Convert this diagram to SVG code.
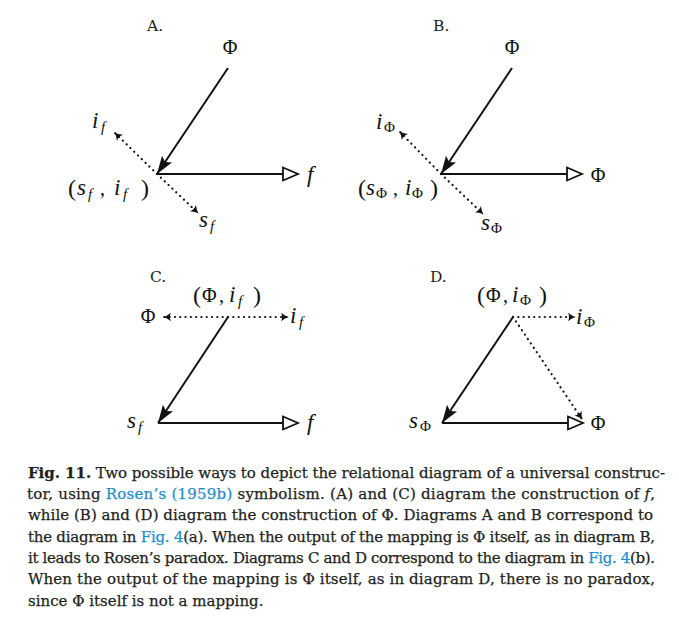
<svg xmlns="http://www.w3.org/2000/svg" width="679" height="620" viewBox="0 0 679 620">
<style>
.lbl{font-family:"DejaVu Serif","Liberation Serif",serif;font-size:15.5px;fill:#222}
.m{font-family:"Liberation Serif",serif;font-size:20px;fill:#111}
.it{font-style:italic;font-size:23px}
.sub{font-size:15px}
.par{font-size:24px}
.solid{stroke:#111;stroke-width:2;fill:none}
.dot{stroke:#111;stroke-width:2.2;fill:none;stroke-dasharray:0.1 5.2;stroke-linecap:round}
.cap{font-family:"DejaVu Serif","Liberation Serif",serif;font-size:15px;fill:#231f20;stroke:#231f20;stroke-width:0.25}
.lnk{fill:#1f8fc9;stroke:#1f8fc9}
</style>
<defs>
<marker id="fa" markerUnits="userSpaceOnUse" markerWidth="22" markerHeight="16" viewBox="-19 -8 22 16" refX="0" refY="0" orient="auto"><path d="M0,0 L-18,-6 L-14.5,0 L-18,6 Z" fill="#111"/></marker>
<marker id="oa" markerUnits="userSpaceOnUse" markerWidth="22" markerHeight="18" viewBox="-18 -9 22 18" refX="0" refY="0" orient="auto"><path d="M-15,-6.5 L0,0 L-15,6.5 Z" fill="#fff" stroke="#111" stroke-width="1.8" stroke-linejoin="miter"/></marker>
<marker id="da" markerUnits="userSpaceOnUse" markerWidth="12" markerHeight="12" viewBox="-8 -6 12 12" refX="0" refY="0" orient="auto"><path d="M-7,-4.3 Q-2.8,-0.9 0.8,0 Q-2.8,0.9 -7,4.3 Q-4.8,0 -7,-4.3 Z" fill="#111"/></marker>
</defs>
<g id="connectors">
<line class="solid" x1="228" y1="68" x2="157" y2="174" marker-end="url(#fa)"/>
<line class="solid" x1="157" y1="174" x2="298" y2="174" marker-end="url(#oa)"/>
<line class="dot" x1="157" y1="174" x2="115" y2="133" marker-end="url(#da)"/>
<line class="dot" x1="157" y1="174" x2="198" y2="213" marker-end="url(#da)"/>
<line class="solid" x1="512" y1="68" x2="441" y2="174" marker-end="url(#fa)"/>
<line class="solid" x1="441" y1="174" x2="582" y2="174" marker-end="url(#oa)"/>
<line class="dot" x1="441" y1="174" x2="400" y2="132" marker-end="url(#da)"/>
<line class="dot" x1="441" y1="174" x2="483" y2="214" marker-end="url(#da)"/>
<line class="dot" x1="228" y1="317" x2="164" y2="317" marker-end="url(#da)"/>
<line class="dot" x1="228" y1="317" x2="288" y2="317" marker-end="url(#da)"/>
<line class="solid" x1="228" y1="317" x2="158" y2="423" marker-end="url(#fa)"/>
<line class="solid" x1="158" y1="423" x2="298" y2="423" marker-end="url(#oa)"/>
<line class="dot" x1="513" y1="317" x2="575" y2="317" marker-end="url(#da)"/>
<line class="dot" x1="513" y1="317" x2="582" y2="419" marker-end="url(#da)"/>
<line class="solid" x1="513" y1="317" x2="442" y2="423" marker-end="url(#fa)"/>
<line class="solid" x1="442" y1="423" x2="583" y2="423" marker-end="url(#oa)"/>
</g>
<g id="diagramA">
<text class="lbl" x="147" y="31">A.</text>
<text class="m" x="230" y="54" text-anchor="middle">Φ</text>
<text class="m it" x="307" y="182">f</text>
<text class="m"><tspan class="it" x="92" y="128">i</tspan><tspan class="it sub" x="101" y="132">f</tspan></text>
<text class="m"><tspan class="it" x="199" y="227">s</tspan><tspan class="it sub" x="210" y="231">f</tspan></text>
<text class="m"><tspan class="par" x="68" y="196">(</tspan><tspan class="it" x="77" y="195">s</tspan><tspan class="it sub" x="88" y="199">f</tspan><tspan x="100" y="195">,</tspan><tspan class="it" x="114" y="195">i</tspan><tspan class="it sub" x="123" y="199">f</tspan><tspan class="par" x="141" y="196">)</tspan></text>
</g>
<g id="diagramB">
<text class="lbl" x="433" y="31">B.</text>
<text class="m" x="512" y="54" text-anchor="middle">Φ</text>
<text class="m" x="598" y="182" text-anchor="middle">Φ</text>
<text class="m"><tspan class="it" x="376" y="129">i</tspan><tspan class="sub" x="384" y="132">Φ</tspan></text>
<text class="m"><tspan class="it" x="481" y="230">s</tspan><tspan class="sub" x="491" y="233">Φ</tspan></text>
<text class="m"><tspan class="par" x="358" y="196">(</tspan><tspan class="it" x="366" y="195">s</tspan><tspan class="sub" x="376" y="198">Φ</tspan><tspan x="393" y="195">,</tspan><tspan class="it" x="405" y="195">i</tspan><tspan class="sub" x="412" y="198">Φ</tspan><tspan class="par" x="430" y="196">)</tspan></text>
</g>
<g id="diagramC">
<text class="lbl" x="150" y="282">C.</text>
<text class="m"><tspan class="par" x="193" y="303">(</tspan><tspan x="202" y="302">Φ</tspan><tspan x="219" y="302">,</tspan><tspan class="it" x="229" y="302">i</tspan><tspan class="it sub" x="238" y="306">f</tspan><tspan class="par" x="253" y="303">)</tspan></text>
<text class="m" x="148" y="323" text-anchor="middle">Φ</text>
<text class="m"><tspan class="it" x="290" y="323">i</tspan><tspan class="it sub" x="299" y="327">f</tspan></text>
<text class="m"><tspan class="it" x="127" y="428">s</tspan><tspan class="it sub" x="138" y="432">f</tspan></text>
<text class="m it" x="307" y="430">f</text>
</g>
<g id="diagramD">
<text class="lbl" x="430" y="282">D.</text>
<text class="m"><tspan class="par" x="477" y="303">(</tspan><tspan x="486" y="302">Φ</tspan><tspan x="503" y="302">,</tspan><tspan class="it" x="512" y="302">i</tspan><tspan class="sub" x="520" y="305">Φ</tspan><tspan class="par" x="539" y="303">)</tspan></text>
<text class="m"><tspan class="it" x="576" y="324">i</tspan><tspan class="sub" x="584" y="327">Φ</tspan></text>
<text class="m"><tspan class="it" x="409" y="428">s</tspan><tspan class="sub" x="420" y="431">Φ</tspan></text>
<text class="m" x="598" y="430" text-anchor="middle">Φ</text>
</g>
<g id="caption">
<text class="cap" x="28" y="477.5" textLength="637" lengthAdjust="spacing"><tspan font-weight="bold">Fig. 11.</tspan> Two possible ways to depict the relational diagram of a universal construc-</text>
<text class="cap" x="27" y="498.8" textLength="628" lengthAdjust="spacing">tor, using <tspan class="lnk">Rosen’s (1959b)</tspan> symbolism. (A) and (C) diagram the construction of <tspan font-style="italic">f</tspan>,</text>
<text class="cap" x="28" y="520.2" textLength="625" lengthAdjust="spacing">while (B) and (D) diagram the construction of Φ. Diagrams A and B correspond to</text>
<text class="cap" x="28" y="541.5" textLength="627" lengthAdjust="spacing">the diagram in <tspan class="lnk">Fig. 4</tspan>(a). When the output of the mapping is Φ itself, as in diagram B,</text>
<text class="cap" x="28" y="562.9" textLength="627" lengthAdjust="spacing">it leads to Rosen’s paradox. Diagrams C and D correspond to the diagram in <tspan class="lnk">Fig. 4</tspan>(b).</text>
<text class="cap" x="28" y="584.2" textLength="627" lengthAdjust="spacing">When the output of the mapping is Φ itself, as in diagram D, there is no paradox,</text>
<text class="cap" x="28" y="605.6">since Φ itself is not a mapping.</text>
</g>
</svg>
